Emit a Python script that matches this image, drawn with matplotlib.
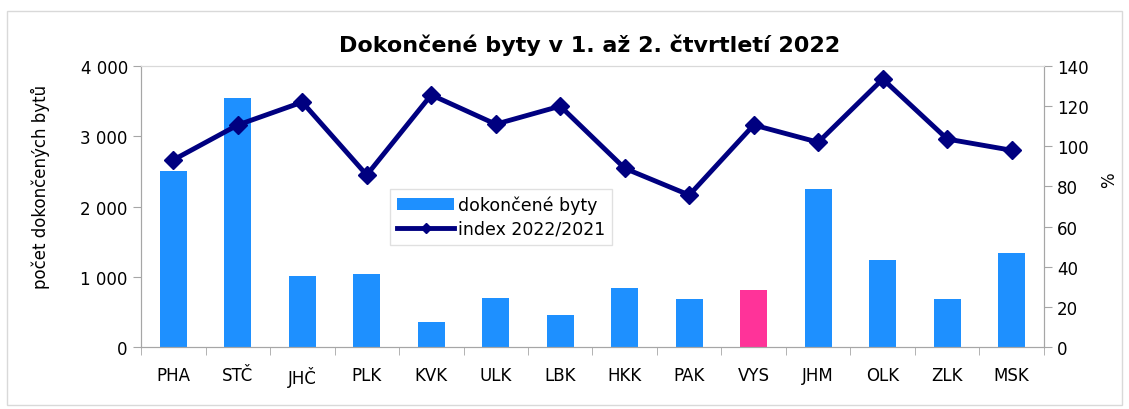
import matplotlib
matplotlib.use('Agg')
from matplotlib import pyplot as plt
from matplotlib.patches import Rectangle
import numpy as np

# kraje a hodnoty
kraje = ['PHA', 'STČ', 'JHČ', 'PLK', 'KVK', 'ULK', 'LBK', 'HKK', 'PAK', 'VYS', 'JHM', 'OLK', 'ZLK', 'MSK']
byty = [2505, 3544, 1010, 1040, 356, 697, 455, 840, 683, 811, 2249, 1238, 683, 1338]
index = [93.2, 110.6, 122.0, 85.7, 125.6, 111.0, 120.0, 89.0, 75.7, 110.6, 102.0, 133.5, 103.6, 98.0]

modra = '#1E90FF'
ruzova = '#FF3399'
tmava = '#000080'
seda = '#A6A6A6'

plt.rcParams['font.family'] = ['DejaVu Sans']

fig = plt.figure(figsize=(11.29, 4.10), dpi=100)
fig.patches.append(Rectangle((0.006, 0.01), 0.988, 0.96, transform=fig.transFigure,
                             fill=False, edgecolor='#D9D9D9', linewidth=1))
ax = fig.add_axes([0.1249, 0.1512, 0.7998, 0.6854])

x = np.arange(len(kraje))
barvy = [ruzova if k == 'VYS' else modra for k in kraje]
bars = ax.bar(x, byty, width=0.42, color=barvy, label='dokončené byty', zorder=2)
ax.set_xlim(-0.5, len(kraje) - 0.5)
ax.set_ylim(0, 4000)
ax.set_yticks([0, 1000, 2000, 3000, 4000])
ax.set_yticklabels(['0', '1 000', '2 000', '3 000', '4 000'])
ax.set_xticks(x)
ax.set_xticklabels(kraje)
ax.set_xticks(np.arange(-0.5, len(kraje)), minor=True)
ax.tick_params(axis='x', which='major', length=0, pad=14, labelsize=12)
ax.tick_params(axis='x', which='minor', length=6, color=seda, direction='out')
ax.tick_params(axis='y', length=6, color=seda, labelsize=12)
ax.set_ylabel('počet dokončených bytů', fontsize=12)
ax.yaxis.set_label_coords(-0.101, 0.573)
for s in ax.spines.values():
    s.set_color(seda)
ax.spines['top'].set_color('#D9D9D9')

ax2 = ax.twinx()
line, = ax2.plot(x, index, color=tmava, linewidth=3.5, marker='D', markersize=9,
                 label='index 2022/2021', zorder=3)
ax2.set_ylim(0, 140)
ax2.set_yticks(range(0, 141, 20))
ax2.tick_params(axis='y', length=6, color=seda, labelsize=12)
ax2.set_ylabel('%', fontsize=12)
ax2.yaxis.set_label_coords(1.062, 0.598)
for s in ax2.spines.values():
    s.set_color(seda)
ax2.spines['top'].set_color('#D9D9D9')

fig.text(0.522, 1 - 45 / 410, 'Dokončené byty v 1. až 2. čtvrtletí 2022', fontsize=16,
         fontweight='bold', ha='center', va='center')

leg = fig.legend(handles=[bars, line], labels=['dokončené byty', 'index 2022/2021'],
                 loc='upper left', bbox_to_anchor=(390 / 1129, 1 - 190 / 410),
                 fontsize=12.5, frameon=True, fancybox=False, edgecolor='#D9D9D9',
                 handlelength=3.3, handletextpad=0.2, borderpad=0.4, labelspacing=0.3,
                 borderaxespad=0)
leg.legend_handles[1].set_markersize(5)

fig.savefig('out.png', dpi=100)
